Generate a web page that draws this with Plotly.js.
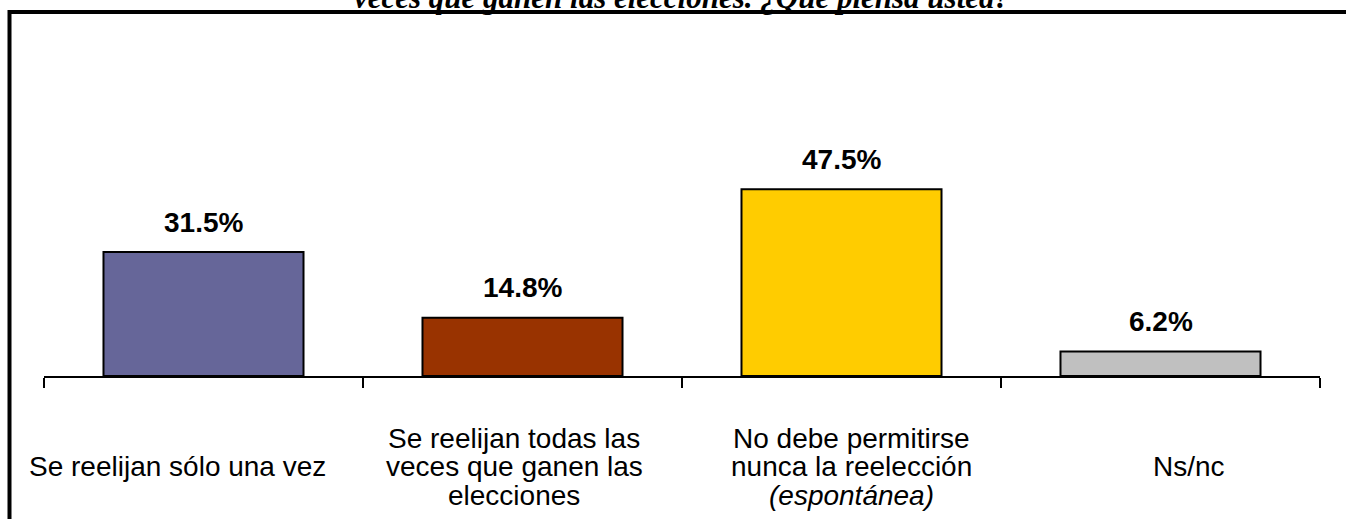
<!DOCTYPE html>
<html>
<head>
<meta charset="utf-8">
<script src="https://cdn.plot.ly/plotly-3.0.1.min.js"></script>
<style>
html, body { margin: 0; padding: 0; background: #ffffff; }
#chart { width: 1346px; height: 519px; }
</style>
</head>
<body>
<div id="chart"></div>
<script>
// ---- data ----
const categories = [
  "Se reelijan sólo una vez",
  "Se reelijan todas las veces que ganen las elecciones",
  "No debe permitirse nunca la reelección (espontánea)",
  "Ns/nc"
];
const labelLines = [
  ["Se reelijan sólo una vez"],
  ["Se reelijan todas las", "veces que ganen las", "elecciones"],
  ["No debe permitirse", "nunca la reelección", "<i>(espontánea)</i>"],
  ["Ns/nc"]
];
const values = [31.5, 14.8, 47.5, 6.2];
const barColors = ["#666699", "#993300", "#FFCC00", "#C0C0C0"];
const titleText = "veces que ganen las elecciones. ¿Qué piensa usted?";

// ---- layout geometry ----
const W = 1346, H = 519;
const M = { l: 44, r: 26, t: 140, b: 143 };
const plotW = W - M.l - M.r, plotH = H - M.t - M.b;
const pxX = px => (px - M.l) / plotW;
const pxY = py => (H - M.b - py) / plotH;

const sansFont = "Arial, 'Liberation Sans', sans-serif";

const traces = [
  {
    type: "bar",
    x: categories,
    y: values,
    marker: { color: barColors, line: { color: "#000000", width: 2 } },
    hoverinfo: "skip",
    showlegend: false
  },
  {
    type: "scatter",
    x: categories,
    y: values,
    xaxis: "x2",
    mode: "markers",
    marker: { opacity: 0 },
    hoverinfo: "skip",
    showlegend: false
  }
];

const annotations = [];
values.forEach((v, i) => {
  annotations.push({
    xref: "x", yref: "y", x: categories[i], y: v,
    text: v.toFixed(1) + "%",
    showarrow: false, yanchor: "middle", yshift: 30,
    font: { family: sansFont, size: 28, color: "#000000", weight: "bold" }
  });
});
const linePitch = 28.5, midShift = 90.8;
labelLines.forEach((lines, i) => {
  lines.forEach((ln, k) => {
    const off = k - (lines.length - 1) / 2;
    annotations.push({
      xref: "x2", yref: "paper", x: categories[i], y: 0,
      text: ln, showarrow: false, yanchor: "middle",
      yshift: -(midShift + linePitch * off),
      font: { family: sansFont, size: 28, color: "#000000" }
    });
  });
});

const layout = {
  width: W, height: H,
  margin: M,
  paper_bgcolor: "#ffffff",
  plot_bgcolor: "#ffffff",
  bargap: 0.373,
  hovermode: false,
  showlegend: false,
  title: {
    text: titleText,
    font: { family: "'Times New Roman', 'Liberation Serif', serif", size: 31, color: "#000000", weight: "bold", style: "italic" },
    xref: "paper", x: 0.5, xanchor: "center",
    yref: "container", y: 1 - 8 / H, yanchor: "bottom"
  },
  xaxis: {
    type: "category",
    categoryorder: "array", categoryarray: categories,
    range: [-0.5, 3.5],
    showline: true, linecolor: "#000000", linewidth: 2,
    ticks: "outside", tickson: "boundaries", ticklen: 10, tickwidth: 2, tickcolor: "#000000",
    showticklabels: false, showgrid: false, zeroline: false, fixedrange: true
  },
  xaxis2: {
    type: "category",
    categoryorder: "array", categoryarray: categories,
    overlaying: "x", anchor: "y",
    range: [-0.3943, 3.3887],
    showline: false, ticks: "", showticklabels: false, showgrid: false, zeroline: false, fixedrange: true
  },
  yaxis: {
    range: [0, 60],
    visible: false, showgrid: false, zeroline: false, fixedrange: true
  },
  annotations: annotations,
  shapes: [
    {
      type: "rect", xref: "paper", yref: "paper",
      x0: pxX(9.5), x1: pxX(1420), y0: pxY(12), y1: pxY(620),
      line: { color: "#000000", width: 4 }, fillcolor: "rgba(0,0,0,0)", layer: "above"
    }
  ]
};

Plotly.newPlot("chart", traces, layout, { displayModeBar: false, staticPlot: true });
</script>
</body>
</html>
